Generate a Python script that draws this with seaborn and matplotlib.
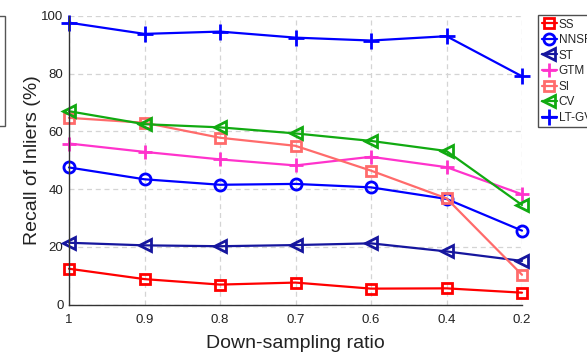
import matplotlib
matplotlib.use("Agg")
import matplotlib.pyplot as plt
import seaborn as sns
import pandas as pd
from matplotlib.patches import Rectangle

ratios = ["1", "0.9", "0.8", "0.7", "0.6", "0.4", "0.2"]
ss = [12.4, 8.8, 6.9, 7.6, 5.5, 5.6, 4.1]
nnsf = [47.5, 43.4, 41.5, 41.8, 40.6, 36.6, 25.6]
st = [21.4, 20.5, 20.2, 20.6, 21.2, 18.4, 15.1]
gtm = [55.8, 52.9, 50.3, 48.2, 51.2, 47.6, 38.2]
si = [64.7, 63.0, 57.8, 55.0, 46.4, 36.8, 10.3]
cv = [67.0, 62.5, 61.4, 59.3, 56.7, 53.2, 34.5]
ltgv = [97.7, 93.8, 94.6, 92.5, 91.5, 93.0, 79.1]

series = {"SS": ss, "NNSF": nnsf, "ST": st, "GTM": gtm, "SI": si, "CV": cv, "LT-GV": ltgv}
colors = {"SS": "#ff0000", "NNSF": "#0000ff", "ST": "#16169e", "GTM": "#ff33cc",
          "SI": "#ff6b6b", "CV": "#11aa11", "LT-GV": "#0000ff"}
markers = {"SS": "s", "NNSF": "o", "ST": "<", "GTM": "+", "SI": "s", "CV": "<", "LT-GV": "+"}
msizes = {"SS": 6.5, "NNSF": 8, "ST": 9, "GTM": 10, "SI": 6.5, "CV": 9, "LT-GV": 11}

rows = []
for name, vals in series.items():
    for i, v in enumerate(vals):
        rows.append({"method": name, "pos": i, "recall": v})
df = pd.DataFrame(rows)

sns.set_style("white")
plt.rcParams['font.family'] = ['Liberation Sans', 'DejaVu Sans']

fig = plt.figure(figsize=(5.87, 3.53), dpi=100)
ax = fig.add_axes([69/587, 1 - 304.5/353, (522 - 69)/587, (304.5 - 16)/353])

for name in series:
    sub = df[df["method"] == name]
    filled = markers[name] == "+"
    sns.lineplot(data=sub, x="pos", y="recall", ax=ax, color=colors[name],
                 marker=markers[name], markersize=msizes[name],
                 markerfacecolor="none" if not filled else colors[name],
                 markeredgecolor=colors[name], markeredgewidth=2,
                 linewidth=1.6, label=name, clip_on=False, legend=False)

ax.set_xlim(0, len(ratios) - 1)
ax.set_ylim(0, 100)
ax.set_xticks(range(len(ratios)))
ax.set_xticklabels(ratios)
ax.set_yticks([0, 20, 40, 60, 80, 100])
ax.grid(True, color="#d4d4d4", linestyle=(0, (4, 3)), linewidth=0.9)
ax.set_axisbelow(True)
for s in ["top", "right"]:
    ax.spines[s].set_visible(False)
for s in ["left", "bottom"]:
    ax.spines[s].set_color("#333333")
    ax.spines[s].set_linewidth(1.0)
ax.tick_params(direction="in", length=3, color="#333333", labelsize=9.5, labelcolor="#222222")
ax.tick_params(axis="x", pad=7)
ax.tick_params(axis="y", pad=4)
ax.set_xlabel("Down-sampling ratio", fontsize=14, color="#222222", labelpad=6)
ax.set_ylabel("Recall of Inliers (%)", fontsize=14, color="#222222", labelpad=0)

handles, labels = ax.get_legend_handles_labels()
leg = fig.legend(handles, labels, loc="upper left", bbox_to_anchor=(538/587, 1 - 15/353),
                 frameon=True, fancybox=False, fontsize=8.5, handlelength=1.3,
                 handletextpad=0.15, labelspacing=0.3, borderpad=0.3, borderaxespad=0)
leg.get_frame().set_edgecolor("#222222")
leg.get_frame().set_linewidth(1.0)

fig.patches.append(Rectangle((-10/587, 1 - 126/353), 15/587, 110/353, transform=fig.transFigure,
                             fill=False, edgecolor="#555555", linewidth=1.0))

fig.savefig("out.png", dpi=100)
